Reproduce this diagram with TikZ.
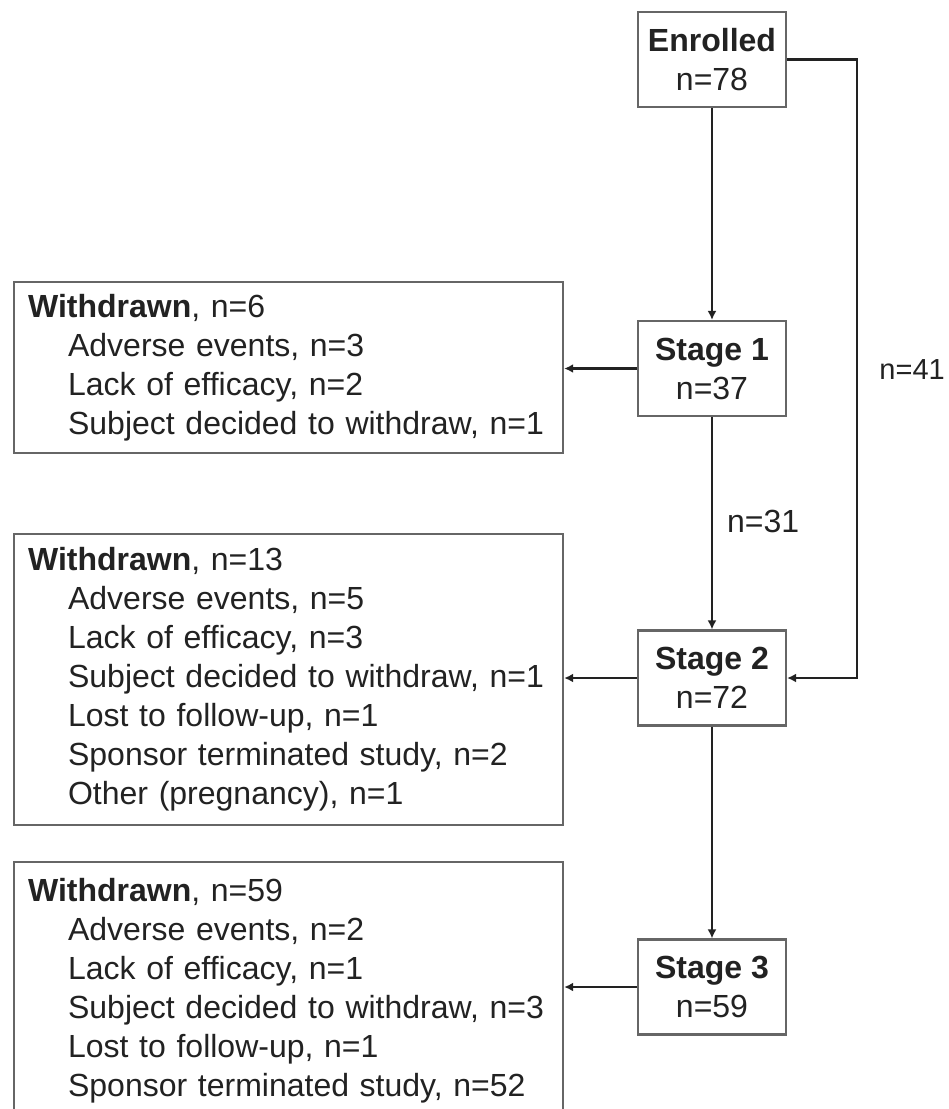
\documentclass[tikz,border=0pt]{standalone}
\usepackage{fontspec}
\setmainfont{Liberation Sans}
\usetikzlibrary{arrows.meta}
\definecolor{boxgray}{HTML}{666666}
\definecolor{linec}{HTML}{222222}
\begin{document}
\begin{tikzpicture}[x=1pt,y=-1pt,
  every node/.style={font=\fontsize{32pt}{39pt}\selectfont, text=linec},
  stagebox/.style={draw=boxgray, line width=2.2pt, minimum width=148pt, minimum height=95pt, inner sep=0pt, align=center},
  wbox/.style={draw=boxgray, line width=2.2pt, inner xsep=14pt, inner ysep=0pt, text width=521pt, align=left, anchor=north west},
  conn/.style={draw=linec, line width=2.2pt, -{Latex[length=9pt,width=9pt]}},
  lbl/.style={inner sep=0pt}]
\useasboundingbox (0,0) rectangle (949,1109);
\clip (0,0) rectangle (949,1109);
\fill[white] (0,0) rectangle (949,1109);

\node[stagebox] (en) at (712,59.5) {\textbf{Enrolled}\\n=78};
\node[stagebox] (s1) at (712,368.5) {\textbf{Stage 1}\\n=37};
\node[stagebox] (s2) at (712,678) {\textbf{Stage 2}\\n=72};
\node[stagebox] (s3) at (712,987) {\textbf{Stage 3}\\n=59};

\node[wbox, minimum height=171pt] (w1) at (13,281) {\textbf{Withdrawn}, n=6\\
\hspace*{40pt}Adverse events, n=3\\
\hspace*{40pt}Lack of efficacy, n=2\\
\hspace*{40pt}Subject decided to withdraw, n=1};

\node[wbox, minimum height=291pt] (w2) at (13,533) {\textbf{Withdrawn}, n=13\\
\hspace*{40pt}Adverse events, n=5\\
\hspace*{40pt}Lack of efficacy, n=3\\
\hspace*{40pt}Subject decided to withdraw, n=1\\
\hspace*{40pt}Lost to follow-up, n=1\\
\hspace*{40pt}Sponsor terminated study, n=2\\
\hspace*{40pt}Other (pregnancy), n=1};

\node[wbox, minimum height=257pt] (w3) at (13,861) {\textbf{Withdrawn}, n=59\\
\hspace*{40pt}Adverse events, n=2\\
\hspace*{40pt}Lack of efficacy, n=1\\
\hspace*{40pt}Subject decided to withdraw, n=3\\
\hspace*{40pt}Lost to follow-up, n=1\\
\hspace*{40pt}Sponsor terminated study, n=52};

\draw[conn] (en.south) -- (s1.north);
\draw[conn] (s1.south) -- (s2.north);
\draw[conn] (s2.south) -- (s3.north);
\coordinate (rt) at (857,59.5);
\draw[conn] (en.east) -- (rt) |- (s2.east);
\node[lbl, anchor=west] (l31) at (727,521) {n=31};
\node[lbl, anchor=east, font=\fontsize{29pt}{35pt}\selectfont] (l41) at (945,370) {n=41};

\draw[conn] (s1.west) -- (s1.west -| w1.east);
\draw[conn] (s2.west) -- (s2.west -| w2.east);
\draw[conn] (s3.west) -- (s3.west -| w3.east);
\end{tikzpicture}
\end{document}
